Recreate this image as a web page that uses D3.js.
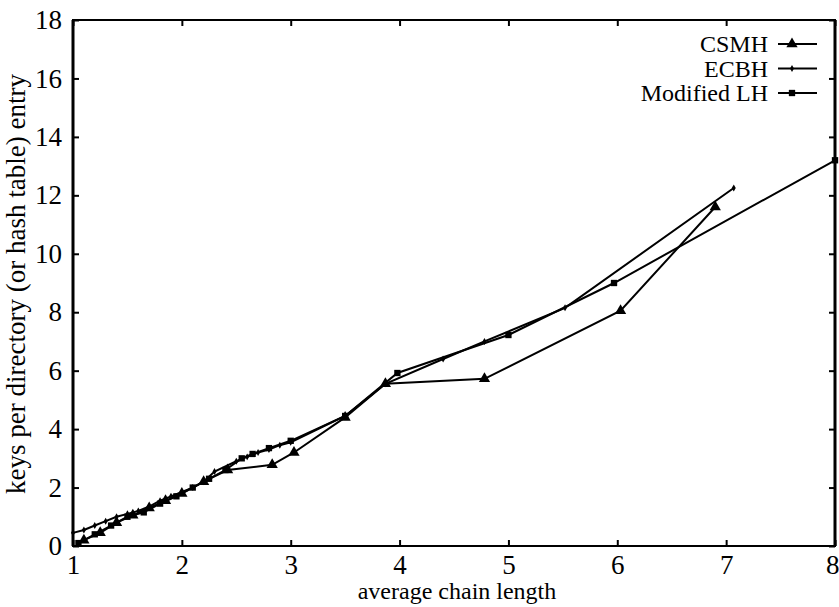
<!DOCTYPE html>
<html>
<head>
<meta charset="utf-8">
<script src="https://cdn.jsdelivr.net/npm/d3@7"></script>
<style>
  body { margin: 0; background: #fff; }
  text { font-family: "Liberation Serif", "DejaVu Serif", serif; fill: #000; }
</style>
</head>
<body>
<svg width="839" height="607"></svg>
<script>
// CSMH (triangles)
const csmhX = [1.1, 1.25, 1.4, 1.55, 1.7, 1.85, 2.0, 2.2, 2.42, 2.83, 3.03, 3.5, 3.87, 4.78, 6.03, 6.9];
const csmhY = [0.2, 0.45, 0.8, 1.05, 1.3, 1.55, 1.8, 2.2, 2.6, 2.78, 3.2, 4.4, 5.55, 5.72, 8.05, 11.6];

// ECBH (small markers)
const ecbhX = [1.0, 1.1, 1.2, 1.3, 1.4, 1.5, 1.6, 1.7, 1.8, 1.9, 2.0, 2.1, 2.2, 2.3, 2.5, 2.6, 2.7, 2.8, 2.9, 3.0, 3.5, 3.87, 4.4, 4.78, 5.52, 7.07];
const ecbhY = [0.45, 0.55, 0.7, 0.85, 1.0, 1.1, 1.2, 1.35, 1.55, 1.7, 1.85, 2.0, 2.2, 2.55, 2.9, 3.05, 3.2, 3.3, 3.45, 3.55, 4.45, 5.55, 6.4, 7.0, 8.15, 12.25];

// Modified LH (squares)
const mlhX = [1.05, 1.2, 1.35, 1.5, 1.65, 1.8, 1.95, 2.1, 2.25, 2.4, 2.55, 2.65, 2.8, 3.0, 3.5, 3.98, 5.0, 5.97, 8.0];
const mlhY = [0.1, 0.4, 0.7, 1.0, 1.15, 1.45, 1.7, 2.0, 2.3, 2.6, 3.0, 3.15, 3.35, 3.6, 4.45, 5.92, 7.22, 9.0, 13.2];

const xTicks = [1, 2, 3, 4, 5, 6, 7, 8];
const yTicks = [0, 2, 4, 6, 8, 10, 12, 14, 16, 18];
const seriesNames = ["CSMH", "ECBH", "Modified LH"];

const plotL = 73, plotR = 835, plotT = 20, plotB = 546;

const svg = d3.select("svg");
const x = d3.scaleLinear().domain([1, 8]).range([plotL, plotR]);
const y = d3.scaleLinear().domain([0, 18]).range([plotB, plotT]);

// frame
svg.append("rect")
  .attr("x", plotL).attr("y", plotT)
  .attr("width", plotR - plotL).attr("height", plotB - plotT)
  .attr("fill", "none").attr("stroke", "#000").attr("stroke-width", 2);
[plotL, plotR].forEach(px => {
  svg.append("line").attr("x1", px).attr("x2", px).attr("y1", plotT).attr("y2", plotB)
    .attr("stroke", "#000").attr("stroke-width", 3);
});

// axes with inward ticks, mirrored
const xb = svg.append("g").attr("transform", `translate(0,${plotB})`)
  .call(d3.axisBottom(x).tickValues(xTicks).tickSize(-6).tickPadding(9).tickFormat(d3.format("d")));
const xt = svg.append("g").attr("transform", `translate(0,${plotT})`)
  .call(d3.axisTop(x).tickValues(xTicks).tickSize(-6).tickFormat(""));
const yl = svg.append("g").attr("transform", `translate(${plotL},0)`)
  .call(d3.axisLeft(y).tickValues(yTicks).tickSize(-6).tickPadding(11).tickFormat(d3.format("d")));
const yr = svg.append("g").attr("transform", `translate(${plotR},0)`)
  .call(d3.axisRight(y).tickValues(yTicks).tickSize(-6).tickFormat(""));
[xb, xt, yl, yr].forEach(g => {
  g.attr("font-family", null);
  g.select(".domain").remove();
  g.selectAll(".tick line").attr("stroke", "#000").attr("stroke-width", 2);
  g.selectAll("text")
    .style("font-family", "'Liberation Serif', serif")
    .style("font-size", "27px")
    .attr("fill", "#000");
});
// last x label sits against the right edge, as in the source
xb.selectAll(".tick text").filter(d => d === 8).attr("text-anchor", "end").attr("x", 4);

// axis titles
svg.append("text")
  .attr("x", (plotL + plotR) / 2 + 3).attr("y", 599)
  .attr("text-anchor", "middle").style("font-size", "24px")
  .text("average chain length");
svg.append("text")
  .attr("transform", `translate(25,${(plotT + plotB) / 2 + 1}) rotate(-90)`)
  .attr("text-anchor", "middle").style("font-size", "27px")
  .text("keys per directory (or hash table) entry");

const line = d3.line().x(d => x(d[0])).y(d => y(d[1]));
const zip = (a, b) => a.map((v, i) => [v, b[i]]);

const series = [
  { name: seriesNames[0], pts: zip(csmhX, csmhY), sym: d3.symbolTriangle, size: 55 },
  { name: seriesNames[1], pts: zip(ecbhX, ecbhY), sym: d3.symbolDiamond, size: 14 },
  { name: seriesNames[2], pts: zip(mlhX, mlhY), sym: d3.symbolSquare, size: 40 }
];

series.forEach(s => {
  svg.append("path").datum(s.pts)
    .attr("fill", "none").attr("stroke", "#000").attr("stroke-width", 2)
    .attr("d", line);
  svg.append("g").selectAll("path").data(s.pts).join("path")
    .attr("transform", d => `translate(${x(d[0])},${y(d[1])})`)
    .attr("d", d3.symbol(s.sym, s.size))
    .attr("fill", "#000");
});

// legend
const legend = svg.append("g");
series.forEach((s, i) => {
  const ly = 44 + i * 24.5;
  legend.append("text")
    .attr("x", 768).attr("y", ly + 8)
    .attr("text-anchor", "end").style("font-size", "24px")
    .text(s.name);
  legend.append("line")
    .attr("x1", 778).attr("x2", 817).attr("y1", ly).attr("y2", ly)
    .attr("stroke", "#000").attr("stroke-width", 2);
  legend.append("path")
    .attr("transform", `translate(792,${ly})`)
    .attr("d", d3.symbol(s.sym, s.size))
    .attr("fill", "#000");
});
</script>
</body>
</html>
